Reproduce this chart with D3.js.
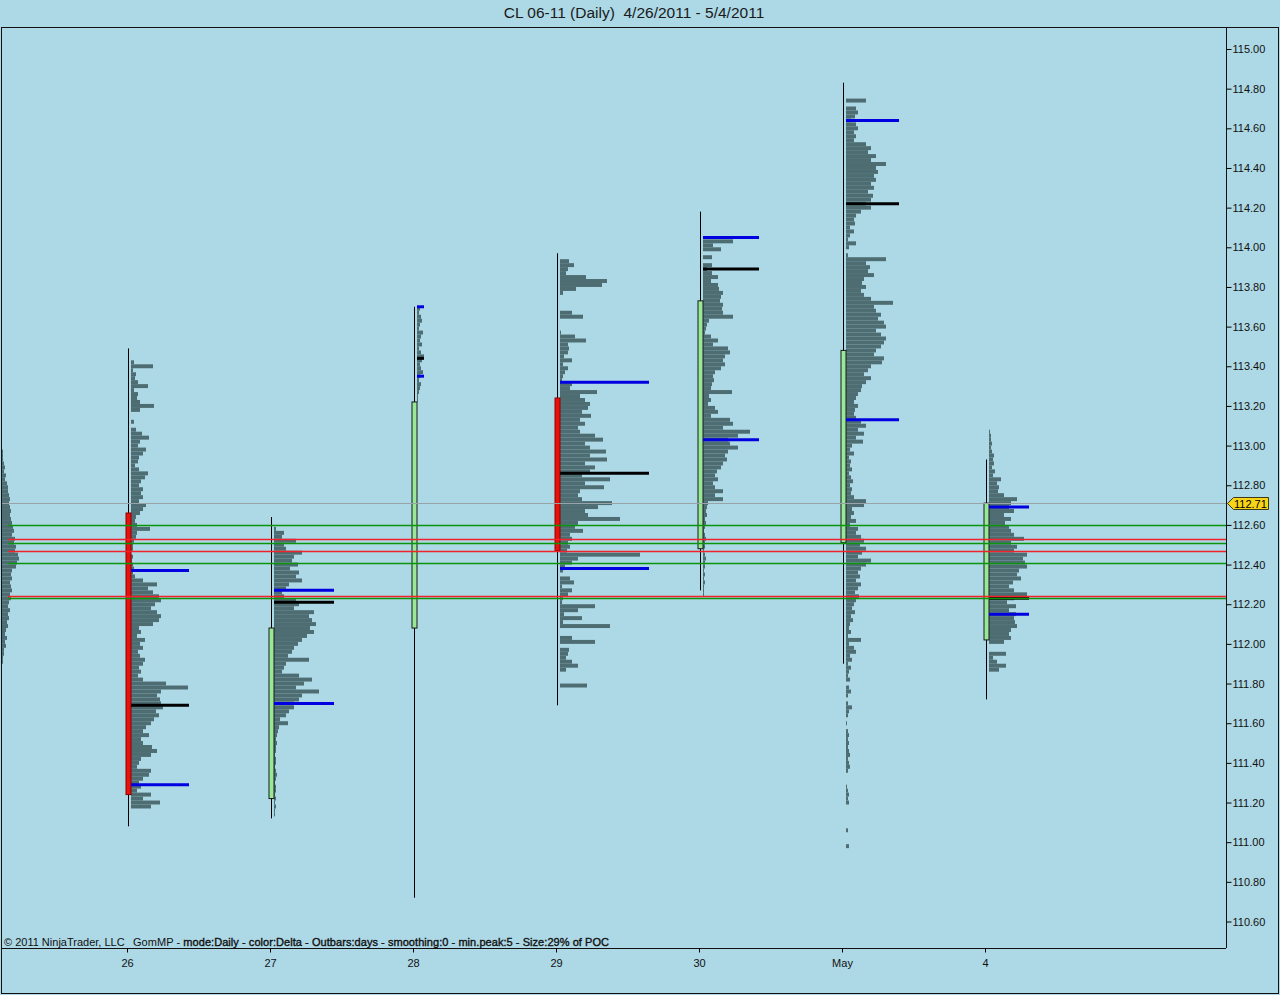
<!DOCTYPE html>
<html>
<head>
<meta charset="utf-8">
<script src="https://cdn.jsdelivr.net/npm/d3@7"></script>
<style>
    body { margin: 0; background: #add8e6; }
    text { font-family: "Liberation Sans", Arial, sans-serif; }
</style>
</head>
<body>
<div id="chart"></div>
<script>

// daily bars, CL 06-11
let dayLabels = ["26", "27", "28", "29", "30", "May", "4"];
let opens  = [112.66, 111.22, 112.08, 113.24, 112.48, 112.51, 112.02];
let highs  = [113.49, 112.64, 113.70, 113.97, 114.18, 114.83, 112.93];
let lows   = [111.08, 111.12, 110.72, 111.69, 112.27, 111.90, 111.72];
let closes = [111.24, 112.08, 113.22, 112.47, 113.73, 113.48, 112.71];

// value area high / poc / value area low
let vahs = [112.37, 112.27, 113.70, 113.32, 114.05, 114.64, 112.69];
let pocs = [111.69, 112.21, 113.44, 112.86, 113.89, 114.22, 112.23];
let vals = [111.29, 111.70, 113.35, 112.38, 113.03, 113.13, 112.15];
let pocVol = [58, 60, 7, 89, 56, 53, 40];

// market profiles, volume per 0.02 from top price down (index -1 = 4/25)
let profDays = [-1, 0, 1, 2, 3, 4, 5, 6];
let profTops = [113.10, 113.43, 112.59, 113.70, 113.94, 114.04, 114.75, 113.08];

let prof25 = [13,13,14,13,14,14,15,15, 15,16,17,16,18,17,19,20, 20,21,22,21,22,23,22,23,
    24,25,26,24,27,26, 28,27,30,31,29,28, 24,23,24,22,23,24,22,23, 21,20,22,20,21,19,20,
    18,17,19,17,18,16, 16,15,15,14,14,13, 13,11,13,10,10,13,9,8,6,13,4,2,13,1];
let prof26 = [3,22,2,5,4,7,17,3,7,6, 9,23,9,0,0,3,0,5,11,18, 9,7,15,12,8,7,4,8,17,14,
    10,8,12,10,12,8,15,12,9,5, 4,6,19,6,5,3,2,2,0,2, 1,2,3,2,4,12,26,17,22,28,
    30,24,20,26,30,28,22,8,10,6, 14,9,12,7,9,14,12,8,10,7, 12,35,57,30,26,29,30,32,25,28,
    23,20,15,12,18,10,12,21,26,20, 10,8,6,20,18,12,8,10,6,20, 12,29,20];
let prof27 = [2,10,8,22,10,12,28,20,18,24, 16,25,22,28,15,12,8,10,22,25, 20,40,35,38,42,36,40,33,28,24,
    20,18,14,35,12,10,8,25,38,30, 22,45,28,25,20,20,15,12,6,14, 5,4,3,
    2,3,2,2,1,2,2,1,2,3,2,1,2,2,1,2,1,2,1,1];
let prof28 = [3,2,4,5,3,2,6,4,3,5,2,4,7,5,3,4,6,3,2,4,3,2,1,1];
let prof29 = [9,14,8,6,26,47,42,16,3,0, 0,0,0,12,23,0,0,0,1,15, 26,8,9,8,4,12,3,8,5,3,
    2,12,10,37,20,25,30,28,22,31, 20,25,18,20,35,43,25,30,46,30, 47,25,35,30,22,50,25,44,20,18,
    22,52,38,25,28,60,18,15,23,10, 12,8,10,7,80,18,12,5,3,0, 10,14,2,12,8,3,2,35,18,4,
    22,3,50,0,0,12,35,0,9,8, 6,12,18,6,0,0,0,27];
let prof30 = [30,10,18,0,9,0,9,4,9,15, 8,15,16,20,18,17,20,19,20,30, 6,4,3,2,8,15,10,25,27,22,
    20,22,18,12,10,11,9,8,29,6, 8,5,12,15,8,27,30,20,47,35, 25,27,35,25,22,24,20,18,14,12,
    15,10,12,20,12,20,5,4,3,4, 2,3,2,1,2,3,2,2,1,2, 3,2,2,1,2,1,2,1,1,1];
let profMay = [20,0,10,12,9,5,10,12,8,10, 8,20,25,22,30,25,40,30,32,28, 30,25,28,22,27,25,20,25,15,10,
    8,9,4,8,4,2,10,3,0,2, 40,20,24,22,28,18,16,20,15,18, 25,47,28,30,35,32,38,40,30,35,
    40,38,35,30,28,38,36,25,22,18, 25,20,16,15,12,10,8,12,9,8, 10,15,20,12,18,10,17,6,4,8,
    3,5,4,6,3,5,7,4,6,5, 8,20,18,6,8,5,10,4,12,10, 15,18,14,20,16,12,25,20,15,12,
    14,10,15,12,9,13,10,8,6,9, 5,7,4,3,5,2,15,3,8,10, 4,6,2,5,3,2,4,0,3,5,
    2,0,2,6,3,2,0,1,0,2, 3,2,3,2,3,4,2,3,4,2, 0,0,0,1,2,3,2,3,0,0, 0,0,0,0,2,0,0,0,3];
let prof4 = [1,2,2,3,2,3,5,4,5,3, 6,4,12,8,10,9,15,28,22,20, 25,15,22,16,20,22,25,35,22,28,
    25,38,34,36,38,30,28,32,24,20, 25,38,25,18,27,20,27,25,26,28, 22,20,22,15,0,0,17,4,8,17,10];
let profiles = [prof25, prof26, prof27, prof28, prof29, prof30, profMay, prof4];
let profStep = 0.02;

// reference levels running across the chart
let lastPrice = 112.71;
let greenLevels = [112.60, 112.51, 112.41, 112.23];
let redLevels = [112.53, 112.47, 112.24];

let priceTicks = d3.range(0, 23).map(i => +(110.6 + i * 0.2).toFixed(2));


class ProfileChart {
    constructor(parentElement) {
        this.parentElement = parentElement;
    }

    initVis() {
        let vis = this;
        vis.width = 1280;
        vis.height = 995;
        vis.plot = {left: 1, top: 27, right: 1226, bottom: 948};

        vis.svg = d3.select("#" + vis.parentElement).append("svg")
            .attr("width", vis.width)
            .attr("height", vis.height)
            .style("display", "block")

        vis.svg.append("rect")
            .attr("width", vis.width)
            .attr("height", vis.height)
            .attr("fill", "#add8e6")

        vis.svg.append("text")
            .text("CL 06-11 (Daily)  4/26/2011 - 5/4/2011")
            .attr("x", 634)
            .attr("y", 18)
            .attr("text-anchor", "middle")
            .attr("font-size", 15.5)
            .attr("fill", "#1a1a1a")
            .style("white-space", "pre")

        vis.svg.append("defs").append("clipPath")
            .attr("id", "plotclip")
            .append("rect")
            .attr("x", vis.plot.left)
            .attr("y", vis.plot.top)
            .attr("width", vis.plot.right - vis.plot.left)
            .attr("height", vis.plot.bottom - vis.plot.top)

        vis.x = d3.scaleLinear().domain([0, 6]).range([128, 986]);
        vis.y = d3.scaleLinear().domain([110.6, 115.0]).range([921.5, 49]);
        vis.w = d3.scaleLinear().domain([0, 100]).range([0, 100]);

        vis.chart = vis.svg.append("g").attr("clip-path", "url(#plotclip)");

        vis.wrangleData();
    }

    wrangleData() {
        let vis = this;
        vis.bars = [];
        profiles.forEach(function(arr, k) {
            arr.forEach(function(v, i) {
                if (v > 0) {
                    vis.bars.push({day: profDays[k], p: profTops[k] - profStep * i, v: v});
                }
            })
        })
        vis.days = dayLabels.map((d, i) => ({
            i: i, o: opens[i], h: highs[i], l: lows[i], c: closes[i],
            vah: vahs[i], poc: pocs[i], val: vals[i], len: pocVol[i]
        }));
        vis.updateVis();
    }

    updateVis() {
        let vis = this;
        let rowH = vis.y(0) - vis.y(profStep);

        // profile histograms
        vis.chart.selectAll(".prof").data(vis.bars).enter().append("rect")
            .attr("class", "prof")
            .attr("x", d => vis.x(d.day) + 3)
            .attr("y", d => vis.y(d.p))
            .attr("width", d => vis.w(d.v))
            .attr("height", rowH)
            .attr("fill", "#4e6d72")

        // wicks
        vis.chart.selectAll(".wick").data(vis.days).enter().append("line")
            .attr("class", "wick")
            .attr("x1", d => Math.round(vis.x(d.i)) + 0.5)
            .attr("x2", d => Math.round(vis.x(d.i)) + 0.5)
            .attr("y1", d => vis.y(d.h))
            .attr("y2", d => vis.y(d.l))
            .attr("stroke", "black")

        // bodies
        vis.chart.selectAll(".body").data(vis.days).enter().append("rect")
            .attr("class", "body")
            .attr("x", d => Math.round(vis.x(d.i)) - 2)
            .attr("y", d => vis.y(Math.max(d.o, d.c)))
            .attr("width", 5)
            .attr("height", d => vis.y(Math.min(d.o, d.c)) - vis.y(Math.max(d.o, d.c)))
            .attr("fill", d => d.c < d.o ? "#e8120c" : "#98e898")
            .attr("stroke", d => d.c < d.o ? "#8b0000" : "#1a1a1a")
            .attr("stroke-width", 1)

        // value area + poc lines
        let vaLines = [];
        vis.days.forEach(function(d) {
            vaLines.push({i: d.i, p: d.vah, len: d.len, col: "#0000e0"});
            vaLines.push({i: d.i, p: d.val, len: d.len, col: "#0000e0"});
            vaLines.push({i: d.i, p: d.poc, len: d.len, col: "#000000"});
        })
        vis.chart.selectAll(".va").data(vaLines).enter().append("line")
            .attr("class", "va")
            .attr("x1", d => Math.round(vis.x(d.i)) + 3)
            .attr("x2", d => Math.round(vis.x(d.i)) + 3 + vis.w(d.len))
            .attr("y1", d => vis.y(d.p))
            .attr("y2", d => vis.y(d.p))
            .attr("stroke", d => d.col)
            .attr("stroke-width", 3)

        // horizontal levels
        let levels = greenLevels.map(p => ({p: p, col: "#0c940c"}))
            .concat(redLevels.map(p => ({p: p, col: "#f0222a"})));
        vis.chart.selectAll(".lvl").data(levels).enter().append("line")
            .attr("class", "lvl")
            .attr("x1", 8)
            .attr("x2", vis.plot.right)
            .attr("y1", d => Math.round(vis.y(d.p)) + 0.5)
            .attr("y2", d => Math.round(vis.y(d.p)) + 0.5)
            .attr("stroke", d => d.col)
            .attr("stroke-width", 1.7)

        vis.chart.append("line")
            .attr("x1", vis.plot.left)
            .attr("x2", vis.plot.right)
            .attr("y1", Math.round(vis.y(lastPrice)) + 0.5)
            .attr("y2", Math.round(vis.y(lastPrice)) + 0.5)
            .attr("stroke", "#9aa4a8")
            .attr("shape-rendering", "crispEdges")

        // frame
        vis.svg.append("rect")
            .attr("x", 1.5)
            .attr("y", vis.plot.top + 0.5)
            .attr("width", 1277)
            .attr("height", 993 - vis.plot.top)
            .attr("fill", "none")
            .attr("stroke", "#111")
        vis.svg.append("line")
            .attr("x1", vis.plot.right + 0.5).attr("x2", vis.plot.right + 0.5)
            .attr("y1", vis.plot.top).attr("y2", vis.plot.bottom)
            .attr("stroke", "#111")
        vis.svg.append("line")
            .attr("x1", vis.plot.left).attr("x2", vis.plot.right)
            .attr("y1", vis.plot.bottom + 0.5).attr("y2", vis.plot.bottom + 0.5)
            .attr("stroke", "#111")

        // axes
        let yAxis = d3.axisRight(vis.y)
            .tickValues(priceTicks)
            .tickFormat(d3.format(".2f"))
            .tickSize(5)
            .tickPadding(1);
        let gy = vis.svg.append("g")
            .attr("transform", `translate(${vis.plot.right + 0.5},0)`)
            .call(yAxis);
        gy.select(".domain").remove();
        gy.selectAll("text").attr("font-size", 11).attr("font-family", "Liberation Sans, Arial, sans-serif").attr("fill", "#111");

        let xAxis = d3.axisBottom(vis.x)
            .tickValues(d3.range(0, 7))
            .tickFormat(i => dayLabels[i])
            .tickSize(4)
            .tickPadding(7);
        let gx = vis.svg.append("g")
            .attr("transform", `translate(-1,${vis.plot.bottom + 0.5})`)
            .call(xAxis);
        gx.select(".domain").remove();
        gx.selectAll("text").attr("font-size", 11).attr("font-family", "Liberation Sans, Arial, sans-serif").attr("fill", "#111");

        // last price marker
        let py = Math.round(vis.y(lastPrice)) + 0.5;
        vis.svg.append("path")
            .attr("d", `M${vis.plot.right + 1.5},${py} L${vis.plot.right + 7.5},${py - 6} L${vis.plot.right + 42.5},${py - 6} L${vis.plot.right + 42.5},${py + 6} L${vis.plot.right + 7.5},${py + 6} Z`)
            .attr("fill", "#f7d417")
            .attr("stroke", "#3a3a1a")
        vis.svg.append("text")
            .text(d3.format(".2f")(lastPrice))
            .attr("x", vis.plot.right + 8)
            .attr("y", py + 4)
            .attr("font-size", 11)
            .attr("fill", "#000")

        // footer texts
        vis.svg.append("text")
            .text("\u00a9 2011 NinjaTrader, LLC")
            .attr("x", 4).attr("y", 946)
            .attr("font-size", 11).attr("fill", "#111")
        let foot = vis.svg.append("text")
            .attr("x", 133).attr("y", 946)
            .attr("textLength", 476)
            .attr("font-size", 11).attr("fill", "#111")
        foot.append("tspan").text("GomMP - ")
        foot.append("tspan")
            .text("mode:Daily - color:Delta - Outbars:days - smoothing:0 - min.peak:5 - Size:29% of POC")
            .attr("stroke", "#111")
            .attr("stroke-width", 0.35)
    }
}

let chart = new ProfileChart("chart");
chart.initVis();
</script>
</body>
</html>
